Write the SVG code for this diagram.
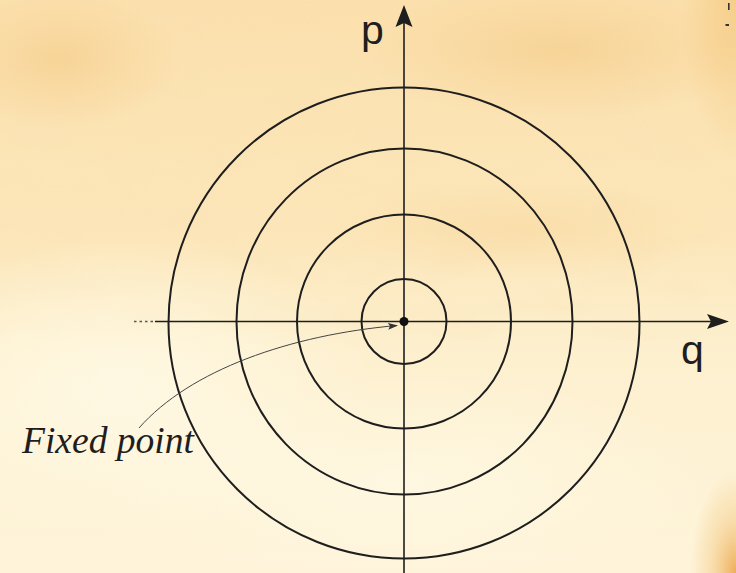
<svg xmlns="http://www.w3.org/2000/svg" width="736" height="573" viewBox="0 0 736 573">
<style>
.orbit{fill:none;stroke:#1e1e1e;stroke-width:2}
.axis{fill:none;stroke:#1e1e1e;stroke-width:1.6}
.lbl{font-family:"Liberation Sans",Arial,sans-serif;font-size:41px;fill:#1e1e1e}
.script{font-family:"Liberation Serif","Times New Roman",serif;font-style:italic;font-size:37px;fill:#1e1e1e}
</style>
<defs>
<linearGradient id="bg" x1="0" y1="0" x2="0" y2="1">
<stop offset="0" stop-color="#fbe0ad"/>
<stop offset="0.4" stop-color="#fce6b9"/>
<stop offset="0.62" stop-color="#fdf0cf"/>
<stop offset="1" stop-color="#fef4da"/>
</linearGradient>
<radialGradient id="warm1" cx="0.5" cy="0.5" r="0.5">
<stop offset="0" stop-color="#f2c47a" stop-opacity="0.45"/>
<stop offset="1" stop-color="#f2c47a" stop-opacity="0"/>
</radialGradient>
<radialGradient id="pale" cx="0.5" cy="0.5" r="0.5">
<stop offset="0" stop-color="#fffbe8" stop-opacity="0.8"/>
<stop offset="1" stop-color="#fffbe8" stop-opacity="0"/>
</radialGradient>
<radialGradient id="corner" cx="1" cy="1" r="1">
<stop offset="0" stop-color="#eca548" stop-opacity="0.9"/>
<stop offset="0.55" stop-color="#f3c77e" stop-opacity="0.45"/>
<stop offset="1" stop-color="#f3c77e" stop-opacity="0"/>
</radialGradient>
<radialGradient id="cornerTop" cx="1" cy="0" r="1">
<stop offset="0" stop-color="#f0b860" stop-opacity="0.45"/>
<stop offset="1" stop-color="#f0b860" stop-opacity="0"/>
</radialGradient>
<filter id="tex" x="0" y="0" width="100%" height="100%">
<feTurbulence type="fractalNoise" baseFrequency="0.012 0.03" numOctaves="3" seed="4" result="n"/>
<feColorMatrix type="matrix" values="0 0 0 0 0.93  0 0 0 0 0.74  0 0 0 0 0.45  0 0 0 1.4 -0.7" in="n"/>
</filter>
<marker id="ah" markerWidth="10" markerHeight="8" refX="9" refY="4" orient="auto" markerUnits="userSpaceOnUse">
<path d="M0,0.5 L10,4 L0,7.5 L2,4 Z" fill="#333"/>
</marker>
</defs>
<g id="background">
<rect width="736" height="573" fill="url(#bg)"/>
<rect width="736" height="340" filter="url(#tex)" opacity="0.45"/>
<ellipse cx="560" cy="50" rx="200" ry="70" fill="url(#warm1)"/>
<ellipse cx="60" cy="60" rx="120" ry="70" fill="url(#warm1)"/>
<ellipse cx="520" cy="230" rx="200" ry="50" fill="url(#warm1)" opacity="0.5"/>
<ellipse cx="120" cy="390" rx="260" ry="150" fill="url(#pale)"/>
<ellipse cx="400" cy="480" rx="320" ry="110" fill="url(#pale)" opacity="0.7"/>
<rect x="690" y="470" width="46" height="103" fill="url(#corner)"/>
<rect x="680" y="0" width="56" height="160" fill="url(#cornerTop)"/>
<rect x="728" y="3" width="1.6" height="7" fill="#333"/>
<rect x="725.5" y="24" width="3.5" height="2" fill="#333"/>
</g>
<g id="orbits">
<ellipse id="orbit1" class="orbit" cx="404" cy="321.5" rx="42.5" ry="42.5"/>
<ellipse id="orbit2" class="orbit" cx="404" cy="321.5" rx="107" ry="107"/>
<ellipse id="orbit3" class="orbit" cx="404.5" cy="321.5" rx="168" ry="173"/>
<ellipse id="orbit4" class="orbit" cx="404" cy="323" rx="235.5" ry="235.5"/>
</g>
<g id="axes">
<line class="axis" x1="404" y1="573" x2="404" y2="22"/>
<path d="M404,5 L412.5,27 L404,23 L395.5,27 Z" fill="#1e1e1e"/>
<line class="axis" x1="155" y1="321.5" x2="712" y2="321.5"/>
<path d="M729,321.5 L707,314 L711,321.5 L707,329 Z" fill="#1e1e1e"/>
<line x1="134" y1="321.5" x2="154" y2="321.5" stroke="#555" stroke-width="1.5" stroke-dasharray="2.5,3"/>
</g>
<g id="fixed-point">
<circle cx="404" cy="321.5" r="4.5" fill="#111"/>
</g>
<g id="connectors">
<path d="M139,428 C190,370 290,335 397,325.5" fill="none" stroke="#444" stroke-width="1" marker-end="url(#ah)"/>
</g>
<g id="labels">
<text id="label-p" class="lbl" x="361" y="44">p</text>
<text id="label-q" class="lbl" x="681" y="364">q</text>
<text id="label-fixed" class="script" x="22" y="453" textLength="172" lengthAdjust="spacingAndGlyphs">Fixed point</text>
</g>
</svg>
